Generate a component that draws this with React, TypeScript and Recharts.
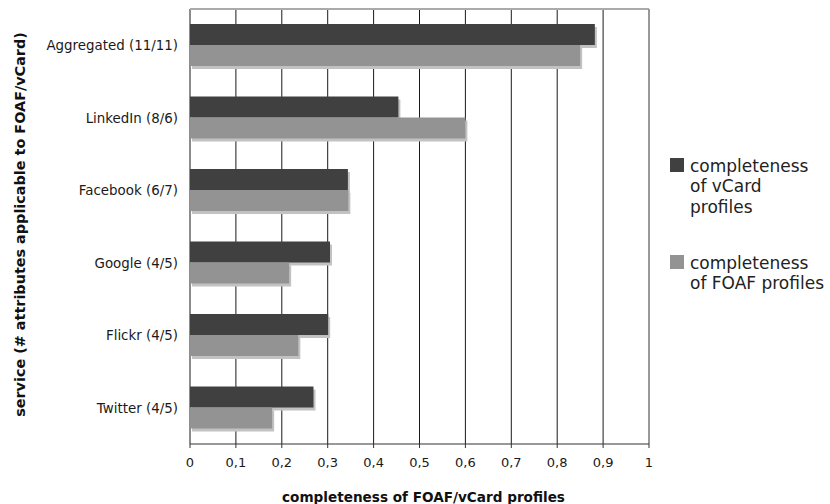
import React from 'react';
import { BarChart, Bar, XAxis, YAxis, CartesianGrid, ReferenceLine, Label } from 'recharts';

// Services with the number of attributes applicable to FOAF / vCard
const services = [
  'Aggregated (11/11)',
  'LinkedIn (8/6)',
  'Facebook (6/7)',
  'Google (4/5)',
  'Flickr (4/5)',
  'Twitter (4/5)',
];
const vcardCompleteness = [0.882, 0.454, 0.344, 0.305, 0.301, 0.269];
const foafCompleteness = [0.85, 0.6, 0.345, 0.216, 0.236, 0.179];

const xTicks = [0, 0.1, 0.2, 0.3, 0.4, 0.5, 0.6, 0.7, 0.8, 0.9, 1];
const boundaryTicks = [0, 1, 2, 3, 4, 5, 6];

const seriesNames = ['completeness of vCard profiles', 'completeness of FOAF profiles'];
const legendLines = [
  ['completeness', 'of vCard', 'profiles'],
  ['completeness', 'of FOAF profiles'],
];

const DARK = '#404040';
const LIGHT = '#939393';
const SHADOW = '#c2c2c2';
const FONT = '"DejaVu Sans", Verdana, sans-serif';

const data = services.map((service, i) => ({
  service,
  vcard: vcardCompleteness[i],
  foaf: foafCompleteness[i],
}));

const formatTick = (v: number) => String(v).replace('.', ',');

// Bar with a soft drop shadow offset to the lower right
const ShadowBar = (props: any) => {
  const { x, y, width, height, fill } = props;
  if (!width || width <= 0) return null;
  return (
    <g>
      <rect x={x + 2} y={y + 3} width={width} height={height} fill={SHADOW} />
      <rect x={x} y={y} width={width} height={height} fill={fill} />
    </g>
  );
};

const LegendBox = () => (
  <div
    style={{
      position: 'absolute',
      left: 670,
      top: 155.5,
      width: 160,
      fontFamily: FONT,
      fontSize: 17,
      lineHeight: '20.5px',
      color: '#222',
    }}
  >
    {legendLines.map((lines, i) => (
      <div key={i} style={{ display: 'flex', alignItems: 'flex-start', marginBottom: i === 0 ? 35.5 : 0 }}>
        <div
          style={{
            width: 14,
            height: 14,
            background: i === 0 ? DARK : LIGHT,
            marginTop: 2.5,
            marginRight: 6,
            flex: 'none',
          }}
        />
        <div>
          {lines.map((l, j) => (
            <div key={j} style={{ whiteSpace: 'nowrap' }}>{l}</div>
          ))}
        </div>
      </div>
    ))}
  </div>
);

export default function App() {
  return (
    <div style={{ position: 'absolute', left: 0, top: 0, width: 830, height: 504, background: '#fff' }}>
      <BarChart
        width={830}
        height={504}
        data={data}
        layout="vertical"
        margin={{ top: 9, right: 181, left: 0, bottom: 0 }}
        barCategoryGap="20.7%"
        barGap={0}
      >
        <CartesianGrid horizontal={false} vertical={true} stroke="#1a1a1a" strokeWidth={1} />
        <CartesianGrid horizontal={true} vertical={false} horizontalPoints={[9]} stroke="#aaaaaa" strokeWidth={2} />
        <XAxis
          type="number"
          domain={[0, 1]}
          ticks={xTicks}
          tickFormatter={formatTick}
          height={60}
          stroke="#333"
          tickSize={4}
          tickMargin={10}
          tick={{ fill: '#1a1a1a', fontSize: 13, fontFamily: FONT }}
        >
          <Label
            content={(p: any) => {
              const vb = p.viewBox;
              return (
                <text
                  x={vb.x + vb.width / 2 + 4}
                  y={vb.y + 58}
                  textAnchor="middle"
                  fontFamily={FONT}
                  fontWeight="bold"
                  fontSize={13.6}
                  fill="#111"
                >
                  completeness of FOAF/vCard profiles
                </text>
              );
            }}
          />
        </XAxis>
        <YAxis
          yAxisId="bounds"
          type="number"
          domain={[0, 6]}
          ticks={boundaryTicks}
          allowDataOverflow
          tick={false}
          tickSize={4}
          width={0}
          stroke="#333"
        />
        <YAxis
          type="category"
          dataKey="service"
          width={190}
          axisLine={false}
          tickLine={false}
          tickMargin={6}
          tick={{ fill: '#1a1a1a', fontSize: 13.4, fontFamily: FONT }}
        >
          <Label
            content={(p: any) => {
              const vb = p.viewBox;
              const cx = vb.x + 20;
              const cy = vb.y + vb.height / 2 - 2;
              return (
                <text
                  x={cx}
                  y={cy}
                  transform={`rotate(-90 ${cx} ${cy})`}
                  textAnchor="middle"
                  dominantBaseline="central"
                  fontFamily={FONT}
                  fontWeight="bold"
                  fontSize={14.4}
                  fill="#111"
                >
                  service (# attributes applicable to FOAF/vCard)
                </text>
              );
            }}
          />
        </YAxis>
        <ReferenceLine x={1} stroke="#999" strokeWidth={2} />
        <Bar dataKey="vcard" name={seriesNames[0]} fill={DARK} shape={ShadowBar} isAnimationActive={false} />
        <Bar dataKey="foaf" name={seriesNames[1]} fill={LIGHT} shape={ShadowBar} isAnimationActive={false} />
      </BarChart>
      <LegendBox />
    </div>
  );
}
